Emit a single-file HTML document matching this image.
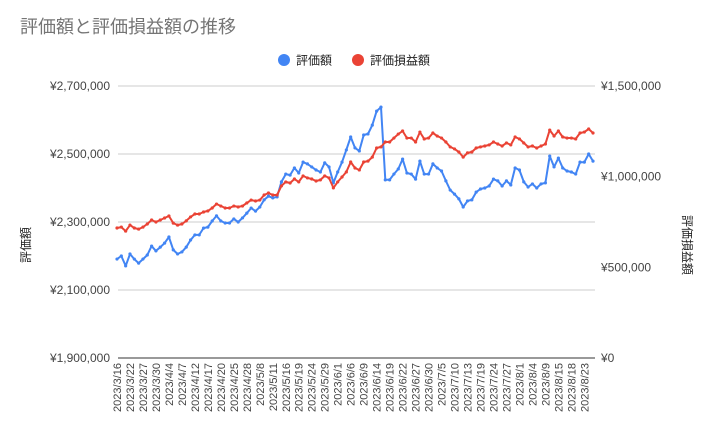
<!DOCTYPE html>
<html><head><meta charset="utf-8">
<style>
body{margin:0;background:#fff;}
svg{display:block;font-family:"Liberation Sans","Noto Sans CJK JP",sans-serif;}
</style></head>
<body>
<svg id="chart" width="711" height="437">
<text x="20" y="33" font-size="18" fill="#757575">評価額と評価損益額の推移</text>
<g>
<g><circle cx="284" cy="60" r="6" fill="#4285f4"/><text x="296" y="64.5" font-size="12" fill="#222">評価額</text></g>
<g><circle cx="358" cy="60" r="6" fill="#ea4335"/><text x="370" y="64.5" font-size="12" fill="#222">評価損益額</text></g>
</g>
<text transform="translate(30,245) rotate(-90)" text-anchor="middle" font-size="12" fill="#222">評価額</text>
<text transform="translate(683,245) rotate(90)" text-anchor="middle" font-size="12" fill="#222">評価損益額</text>
<g id="grid"></g><g id="xl"></g><g id="lines"></g>
</svg>
<script>
const xLabels=["2023/3/16","2023/3/22","2023/3/27","2023/3/30","2023/4/4","2023/4/7","2023/4/12","2023/4/17","2023/4/20","2023/4/25","2023/4/28","2023/5/8","2023/5/11","2023/5/16","2023/5/19","2023/5/24","2023/5/29","2023/6/1","2023/6/6","2023/6/9","2023/6/14","2023/6/19","2023/6/22","2023/6/27","2023/6/30","2023/7/5","2023/7/10","2023/7/13","2023/7/19","2023/7/24","2023/7/27","2023/8/1","2023/8/4","2023/8/9","2023/8/15","2023/8/18","2023/8/23"];
const leftTicks=[1900000,2100000,2300000,2500000,2700000];
const rightTicks=[0,500000,1000000,1500000];
const valuation=[2191,2200,2171,2206,2191,2179,2191,2203,2229,2215,2226,2238,2256,2218,2206,2212,2226,2247,2262,2262,2282,2285,2303,2318,2303,2297,2297,2309,2300,2312,2326,2341,2332,2344,2365,2376,2371,2374,2418,2441,2438,2459,2444,2476,2471,2462,2453,2447,2474,2462,2415,2447,2476,2512,2550,2518,2509,
2556,2559,2585,2626,2638,2424,2424,2441,2456,2485,2444,2441,2426,2479,2441,2441,2471,2459,2450,2421,2394,2382,2368,2344,2362,2365,2388,
2397,2400,2406,2426,2421,2406,2421,2409,2459,2453,2418,2403,2412,2400,2412,2415,2494,2462,2488,2459,2450,2447,2441,2476,2476,2500,2479].map(v=>v*1000);
const profit=[717,722,700,733,717,711,722,739,761,750,761,772,783,744,733,739,756,778,794,794,805,811,827,849,838,827,827,838,833,838,855,871,866,871,899,910,899,899,949,971,965,987,971,1004,993,987,976,982,1004,993,938,971,998,1026,1081,1048,1037,
1081,1086,1108,1158,1164,1191,1191,1213,1235,1252,1213,1213,1191,1246,1208,1213,1241,1224,1213,1191,1164,1153,1136,1108,1131,1136,1158,
1164,1169,1175,1191,1180,1169,1186,1175,1219,1208,1186,1164,1169,1158,1169,1180,1257,1224,1252,1219,1213,1213,1208,1241,1246,1263,1241].map(v=>v*1000);

const NS="http://www.w3.org/2000/svg";
const X0=117,X1=593,Y0=358,Y1=86,PL=118,PR=595;
const n=valuation.length;
const xs=i=>X0+(X1-X0)*i/(n-1);
const yL=v=>Y0-(v-1900000)/800000*(Y0-Y1);
const yR=v=>Y0-v/1500000*(Y0-Y1);
const fmt=v=>"¥"+v.toLocaleString("en-US");
function mk(tag,attrs,parent){const e=document.createElementNS(NS,tag);for(const k in attrs)e.setAttribute(k,attrs[k]);parent.appendChild(e);return e;}
const grid=document.getElementById('grid');
leftTicks.forEach((t,i)=>{
  const y=yL(t);
  const l=mk('line',{x1:PL,x2:PR,y1:y,y2:y,stroke:i===0?'#333':'#ccc','stroke-width':1},grid);
  
  
  const tx=mk('text',{x:110,y:y+4,'text-anchor':'end','font-size':12,fill:'#444'},grid);
  tx.textContent=fmt(t);
  
  
});
rightTicks.forEach(t=>{
  const y=yR(t);
  const tx=mk('text',{x:601,y:y+4,'font-size':12,fill:'#444'},grid);
  tx.textContent=fmt(t);
  
  
});
const xl=document.getElementById('xl');
xLabels.forEach((s,i)=>{
  const x=xs(i*3)+4;
  const tx=mk('text',{transform:`translate(${x},363) rotate(-90)`,'text-anchor':'end','font-size':11,fill:'#444'},xl);
  tx.textContent=s;
  
  
});
const lines=document.getElementById('lines');
function series(data,yf,color,name){
  const g=mk('g',{},lines);
  
  
  const p=mk('polyline',{points:data.map((v,i)=>xs(i).toFixed(1)+","+yf(v).toFixed(1)).join(" "),fill:'none',stroke:color,'stroke-width':2,'stroke-linejoin':'round'},g);
  
  
  data.forEach((v,i)=>{
    const c=mk('circle',{cx:xs(i),cy:yf(v),r:1.6,fill:color},g);
    
    
  });
}
series(valuation,yL,'#4285f4','valuation-series');
series(profit,yR,'#ea4335','profit-series');
</script>
</body></html>
